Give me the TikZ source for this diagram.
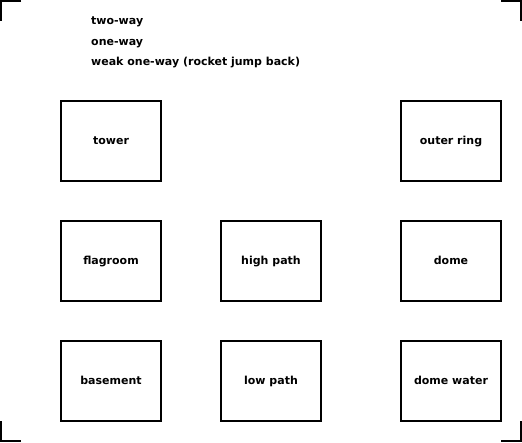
\documentclass[tikz,border=0pt]{standalone}
\usepackage{fontspec}
\setmainfont{DejaVu Sans}
\begin{document}
\begin{tikzpicture}[x=1pt,y=-1pt,
  lbl/.style={font=\bfseries\fontsize{11}{13}\selectfont},
  room/.style={lbl,draw=black,line width=2pt,minimum width=100pt,minimum height=80pt,inner sep=0pt,text height=6pt,text depth=0pt},
  legend/.style={lbl,anchor=west,inner sep=0pt,text height=6pt,text depth=0pt},
  crop/.style={line width=2pt}]
\useasboundingbox (0,0) rectangle (522,442);
\fill[white] (0,0) rectangle (522,442);
% crop marks
\coordinate (tl1) at (21,1); \coordinate (tl2) at (1,1); \coordinate (tl3) at (1,21);
\coordinate (tr1) at (501,1); \coordinate (tr2) at (521,1); \coordinate (tr3) at (521,21);
\coordinate (bl1) at (1,421); \coordinate (bl2) at (1,441); \coordinate (bl3) at (21,441);
\coordinate (br1) at (501,441); \coordinate (br2) at (521,441); \coordinate (br3) at (521,421);
\draw[crop] (tl1) -- (tl2) -- (tl3);
\draw[crop] (tr1) -- (tr2) -- (tr3);
\draw[crop] (bl1) -- (bl2) -- (bl3);
\draw[crop] (br1) -- (br2) -- (br3);
% legend
\node[legend] (l1) at (91,21) {two-way};
\node[legend] (l2) at (91,42) {one-way};
\node[legend] (l3) at (91,62) {weak one-way (rocket jump back)};
% rooms
\node[room] (tower) at (111,141) {tower};
\node[room] (outer) at (451,141) {outer ring};
\node[room] (flag) at (111,261) {flagroom};
\node[room] (high) at (271,261) {high path};
\node[room] (dome) at (451,261) {dome};
\node[room] (base) at (111,381) {basement};
\node[room] (low) at (271,381) {low path};
\node[room] (water) at (451,381) {dome water};
\end{tikzpicture}
\end{document}
